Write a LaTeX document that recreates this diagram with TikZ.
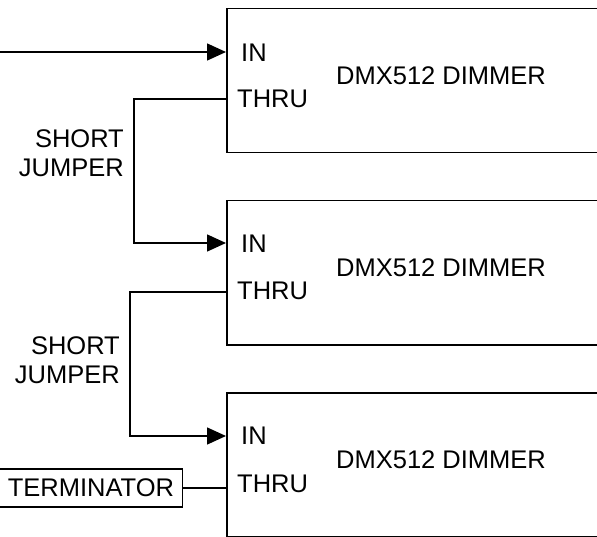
\documentclass[tikz,border=0pt]{standalone}
\usepackage{fontspec}
\setmainfont{Liberation Sans}
\usetikzlibrary{arrows.meta,positioning}

\begin{document}
\begin{tikzpicture}[
    x=1pt, y=-1pt,
    font=\fontsize{25.5}{30}\selectfont,
    dimmer/.style={draw, line width=1.5pt, minimum width=420pt, minimum height=144pt, anchor=north west, inner sep=0pt},
    port/.style={anchor=base west, inner sep=0pt},
    dimlabel/.style={anchor=base west, inner sep=0pt},
    jumplabel/.style={anchor=base east, inner sep=0pt},
    termbox/.style={draw, line width=1.2pt, minimum width=183pt, minimum height=38pt, inner sep=0pt, anchor=east},
    wire/.style={line width=1.5pt},
    arrow/.style={wire, -{Triangle[length=19pt,width=17pt]}}
]
\clip (0,0) rectangle (597,537);

% First dimmer
\node[dimmer] (d1) at (226,8) {};
\coordinate (d1in) at (226,52);
\coordinate (d1thru) at (226,99);
\node[port] (d1inlbl) at (241,62) {IN};
\node[port] (d1thrulbl) at (237,108) {THRU};
\node[dimlabel] (d1name) at (336,85) {DMX512 DIMMER};

% Second dimmer
\node[dimmer] (d2) at (226,200) {};
\coordinate (d2in) at (226,243);
\coordinate (d2thru) at (226,292);
\node[port] (d2inlbl) at (241,253) {IN};
\node[port] (d2thrulbl) at (237,300) {THRU};
\node[dimlabel] (d2name) at (336,277) {DMX512 DIMMER};

% Third dimmer
\node[dimmer] (d3) at (226,392) {};
\coordinate (d3in) at (226,436);
\coordinate (d3thru) at (226,488);
\node[port] (d3inlbl) at (241,444) {IN};
\node[port] (d3thrulbl) at (237,492) {THRU};
\node[dimlabel] (d3name) at (336,468) {DMX512 DIMMER};

% DMX feed
\coordinate (feed) at (0,52);
\draw[arrow] (feed) -- (d1in);

% Jumpers
\draw[arrow] (d1thru) -| (134,170) |- (d2in);
\node[jumplabel] (j1a) at (124,148) {SHORT};
\node[jumplabel] (j1b) at (124,177) {JUMPER};

\draw[arrow] (d2thru) -| (130,360) |- (d3in);
\node[jumplabel] (j2a) at (120,354) {SHORT};
\node[jumplabel] (j2b) at (120,383) {JUMPER};

% Terminator
\node[termbox] (term) at (183,488) {TERMINATOR};
\draw[wire] (term.east) -- (d3thru);

\end{tikzpicture}
\end{document}
